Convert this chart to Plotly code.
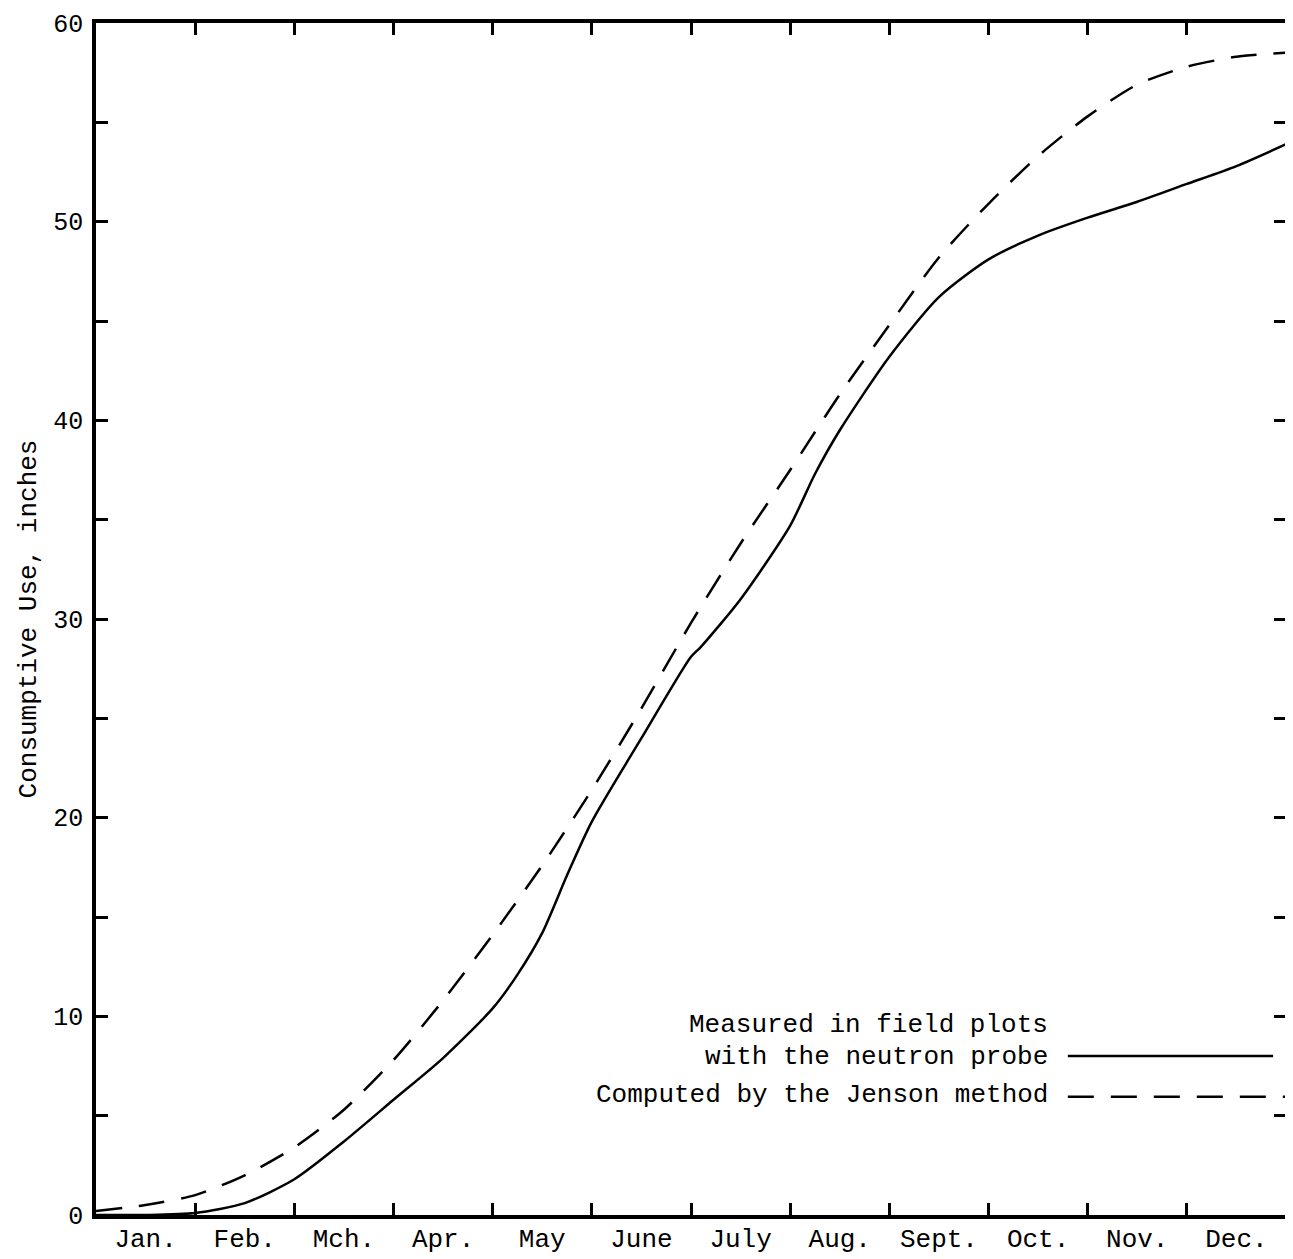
import plotly.graph_objects as go

# ---- data (months measured from Jan 1 = 0 to Dec 31 = 12) ----
months = ["Jan.", "Feb.", "Mch.", "Apr.", "May", "June", "July", "Aug.",
          "Sept.", "Oct.", "Nov.", "Dec."]

measured_x = [0, 0.5, 1.0, 1.5, 2.0, 2.5, 3.0, 3.5, 4.0, 4.25, 4.5, 4.75, 5.0,
              5.5, 6.0, 6.1, 6.5, 7.0, 7.25, 7.5, 8.0, 8.5, 9.0, 9.5, 10.0,
              10.5, 11.0, 11.5, 12.0]
measured_y = [0.0, 0.0, 0.1, 0.6, 1.8, 3.7, 5.8, 7.9, 10.4, 12.1, 14.2, 17.1,
              19.8, 24.0, 28.1, 28.6, 31.0, 34.7, 37.3, 39.5, 43.2, 46.2, 48.1,
              49.3, 50.2, 51.0, 51.9, 52.8, 53.9]

jenson_x = [0, 0.5, 1.0, 1.5, 2.0, 2.5, 3.0, 3.5, 4.0, 4.5, 5.0, 5.5, 6.0,
            6.5, 7.0, 7.5, 8.0, 8.5, 9.0, 9.5, 10.0, 10.5, 11.0, 11.5, 12.0]
jenson_y = [0.2, 0.5, 1.0, 2.0, 3.4, 5.3, 7.8, 10.8, 14.1, 17.6, 21.4, 25.5,
            29.8, 33.8, 37.5, 41.3, 44.8, 48.2, 50.9, 53.3, 55.3, 56.9, 57.8,
            58.3, 58.5]

y_ticks = list(range(0, 61, 5))
y_ticktext = [str(v) if v % 10 == 0 else "" for v in y_ticks]

legend_lines = ["Measured in field plots", "with the neutron probe",
                "Computed by the Jenson method"]

FONT = "Liberation Mono, DejaVu Sans Mono, monospace"
DASH = "26px,17px"

fig = go.Figure()
fig.add_trace(go.Scatter(x=measured_x, y=measured_y, mode="lines",
                         line=dict(color="black", width=2.5, shape="spline", smoothing=0.7),
                         showlegend=False))
fig.add_trace(go.Scatter(x=jenson_x, y=jenson_y, mode="lines",
                         line=dict(color="black", width=2.5, shape="spline", smoothing=0.7,
                                   dash=DASH),
                         showlegend=False))
# invisible trace to activate the label axis
fig.add_trace(go.Scatter(x=[0, 12], y=[0, 0], mode="lines", xaxis="x2",
                         line=dict(color="rgba(0,0,0,0)"), showlegend=False,
                         hoverinfo="skip"))

fig.update_layout(
    width=1288, height=1254,
    margin=dict(l=88, r=10, t=15, b=47),
    paper_bgcolor="white", plot_bgcolor="white",
    font=dict(family=FONT, color="black", size=26),
    xaxis=dict(range=[0, 12], tickvals=list(range(0, 13)), showticklabels=False,
               ticks="inside", ticklen=12, tickwidth=3, tickcolor="black",
               showline=True, linewidth=3.5, linecolor="black", mirror="ticks",
               showgrid=False, zeroline=False, automargin=False),
    xaxis2=dict(range=[0, 12], overlaying="x", side="bottom", matches="x",
                tickvals=[i + 0.5 for i in range(12)], ticktext=months,
                ticks="", showline=False, showgrid=False, zeroline=False,
                tickfont=dict(family=FONT, size=26), ticklabelstandoff=5,
                ticklabeloverflow="allow", automargin=False),
    yaxis=dict(range=[0, 60], tickvals=y_ticks, ticktext=y_ticktext,
               ticks="inside", ticklen=12, tickwidth=3, tickcolor="black",
               showline=True, linewidth=3.5, linecolor="black", mirror="ticks",
               showgrid=False, zeroline=False, automargin=False,
               ticklabeloverflow="allow",
               tickfont=dict(family=FONT, size=25), ticklabelstandoff=4,
               title=dict(text="Consumptive Use, inches",
                          font=dict(family=FONT, size=26), standoff=10)),
)

# legend drawn as in the original: text to the left, line sample to the right
text_y = [9.55, 7.95, 6.05]
for t, yy in zip(legend_lines, text_y):
    fig.add_annotation(x=9.62, y=yy, xref="x", yref="y", text=t, showarrow=False,
                       xanchor="right", yanchor="middle",
                       font=dict(family=FONT, size=26, color="black"))
fig.add_shape(type="line", x0=9.8, x1=11.87, y0=8.0, y1=8.0, xref="x", yref="y",
              line=dict(color="black", width=2.5))
fig.add_shape(type="line", x0=9.8, x1=12.0, y0=5.95, y1=5.95, xref="x", yref="y",
              line=dict(color="black", width=2.5, dash=DASH))

fig.write_html("out.html")
